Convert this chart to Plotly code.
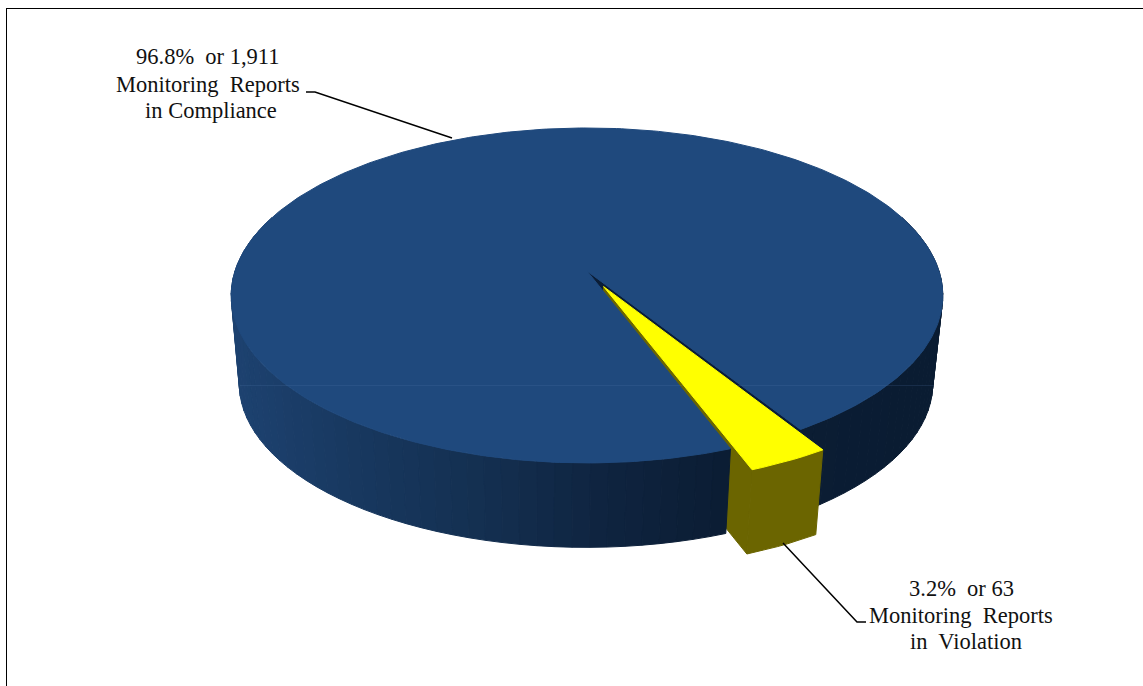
import numpy as np
import plotly.graph_objects as go

# ---- data ----
categories = ["Monitoring Reports in Compliance", "Monitoring Reports in Violation"]
report_counts = [1911, 63]
percent_labels = ["96.8%", "3.2%"]
compliance_lines = ["96.8%  or 1,911", "Monitoring  Reports", "in Compliance"]
violation_lines = ["3.2%  or 63", "Monitoring  Reports", "in  Violation"]

# ---- style / layout ----
W, H = 1143, 686
TOP_BLUE = "#1F497D"
YELLOW = "#FFFF00"
OLIVE = "#6B6500"
NOTCH = "#0B1D36"
EXPLODE = 0.105
VIOLATION_START_DEG = 20.6   # clockwise from the front of the pie
TOP_PLANE = dict(cx=587.0, cy=271.0, A=352.0, B=163.9, k=0.146)
BOT_PLANE = dict(cx=586.0, cy=360.0, A=343.0, B=160.0, k=0.146)
WALL_X = [235, 350, 500, 600, 720, 945]
WALL_R = [29, 24, 19, 15, 11, 10]
WALL_G = [66, 56, 46, 36, 29, 28]
WALL_B = [112, 96, 78, 64, 52, 50]


def project(u, v, p):
    u, v = np.asarray(u, float), np.asarray(v, float)
    d = 1 - p["k"] * v
    return p["cx"] + p["A"] * u / d, p["cy"] + p["B"] * v / d


def arc(a0, a1, n=2):
    t = np.radians(np.linspace(a0, a1, n))
    return np.sin(t), np.cos(t)


def poly(fig, xs, ys, color, name=None):
    fig.add_trace(go.Scatter(
        x=np.append(xs, xs[0]), y=np.append(ys, ys[0]), mode="lines", fill="toself",
        fillcolor=color, line=dict(color=color, width=1),
        hoverinfo="skip", showlegend=False, name=name))


def wall(fig, a0, a1, step=2.5):
    n = max(2, int(abs(a1 - a0) / step) + 1)
    edges = np.linspace(a0, a1, n)
    for e0, e1 in zip(edges[:-1], edges[1:]):
        u, v = arc(e0, e1)
        tx, ty = project(u, v, TOP_PLANE)
        bx, by = project(u, v, BOT_PLANE)
        mid = (tx.mean() + bx.mean()) / 2
        c = [int(round(np.interp(mid, WALL_X, ch))) for ch in (WALL_R, WALL_G, WALL_B)]
        poly(fig, np.r_[tx, bx[::-1]], np.r_[ty, by[::-1]], f"rgb({c[0]},{c[1]},{c[2]})")


total = sum(report_counts)
sweep = 360 * report_counts[1] / total
a0 = VIOLATION_START_DEG
a1 = a0 + sweep
mid = np.radians((a0 + a1) / 2)
ox, oy = EXPLODE * np.sin(mid), EXPLODE * np.cos(mid)

fig = go.Figure()

# blue wall to the right of the gap
wall(fig, a1, 110)

# gap left in the blue pie
u, v = arc(a0, a1, 8)
x, y = project(np.r_[0, u], np.r_[0, v], TOP_PLANE)
poly(fig, x, y, NOTCH)
u1, v1 = arc(a1, a1)
tx, ty = project(np.r_[0, u1[0]], np.r_[0, v1[0]], TOP_PLANE)
bx, by = project(np.r_[0, u1[0]], np.r_[0, v1[0]], BOT_PLANE)
poly(fig, np.r_[tx, bx[::-1]], np.r_[ty, by[::-1]], NOTCH)

# exploded yellow slice: cut face and outer face
u0, v0 = arc(a0, a0)
tx, ty = project(np.r_[ox, u0[0] + ox], np.r_[oy, v0[0] + oy], TOP_PLANE)
bx, by = project(np.r_[ox, u0[0] + ox], np.r_[oy, v0[0] + oy], BOT_PLANE)
poly(fig, np.r_[tx, bx[::-1]], np.r_[ty, by[::-1]], OLIVE)
u, v = arc(a0, a1, 8)
tx, ty = project(u + ox, v + oy, TOP_PLANE)
bx, by = project(u + ox, v + oy, BOT_PLANE)
poly(fig, np.r_[tx, bx[::-1]], np.r_[ty, by[::-1]], OLIVE)

# blue wall to the left of the gap
wall(fig, -110, a0)

# blue top
u, v = arc(a1, a0 + 360, 400)
x, y = project(np.r_[0, u], np.r_[0, v], TOP_PLANE)
poly(fig, x, y, TOP_BLUE, categories[0])

# faint seam across the pie
fig.add_trace(go.Scatter(x=[240, 934], y=[385.5, 385.5], mode="lines",
                         line=dict(color="rgba(90,130,180,0.18)", width=1),
                         hoverinfo="skip", showlegend=False))

# yellow top
u, v = arc(a0, a1, 8)
x, y = project(np.r_[ox, u + ox], np.r_[oy, v + oy], TOP_PLANE)
poly(fig, x, y, YELLOW, categories[1])

FONT = dict(family="Liberation Serif", size=22.5, color="#111111")
ann = []
for text, xc, yc in zip(compliance_lines, [208, 208, 211], [56, 84, 110]):
    ann.append(dict(x=xc, y=yc, text=text, showarrow=False, font=FONT, xref="x", yref="y"))
for text, xc, yc in zip(violation_lines, [961, 961, 966], [588, 615, 641]):
    ann.append(dict(x=xc, y=yc, text=text, showarrow=False, font=FONT, xref="x", yref="y"))


def path(pts):
    return "M " + " L ".join(f"{a},{b}" for a, b in pts)


shapes = [
    dict(type="path", path=path([(306, 92), (315, 92), (452, 138)]), line=dict(color="black", width=1.5)),
    dict(type="path", path=path([(783, 543), (857, 622), (866, 622)]), line=dict(color="black", width=1.5)),
    dict(type="line", x0=6, x1=W + 5, y0=8.5, y1=8.5, line=dict(color="black", width=1)),
    dict(type="line", x0=6.5, x1=6.5, y0=8, y1=H + 5, line=dict(color="black", width=1)),
]

fig.update_layout(
    width=W, height=H, margin=dict(l=0, r=0, t=0, b=0),
    paper_bgcolor="white", plot_bgcolor="white", showlegend=False,
    xaxis=dict(range=[0, W], visible=False, fixedrange=True),
    yaxis=dict(range=[H, 0], visible=False, fixedrange=True),
    annotations=ann, shapes=shapes,
)
fig.write_html("out.html", config=dict(displayModeBar=False),
               post_script="document.body.style.margin='0';document.body.style.overflow='hidden';")
